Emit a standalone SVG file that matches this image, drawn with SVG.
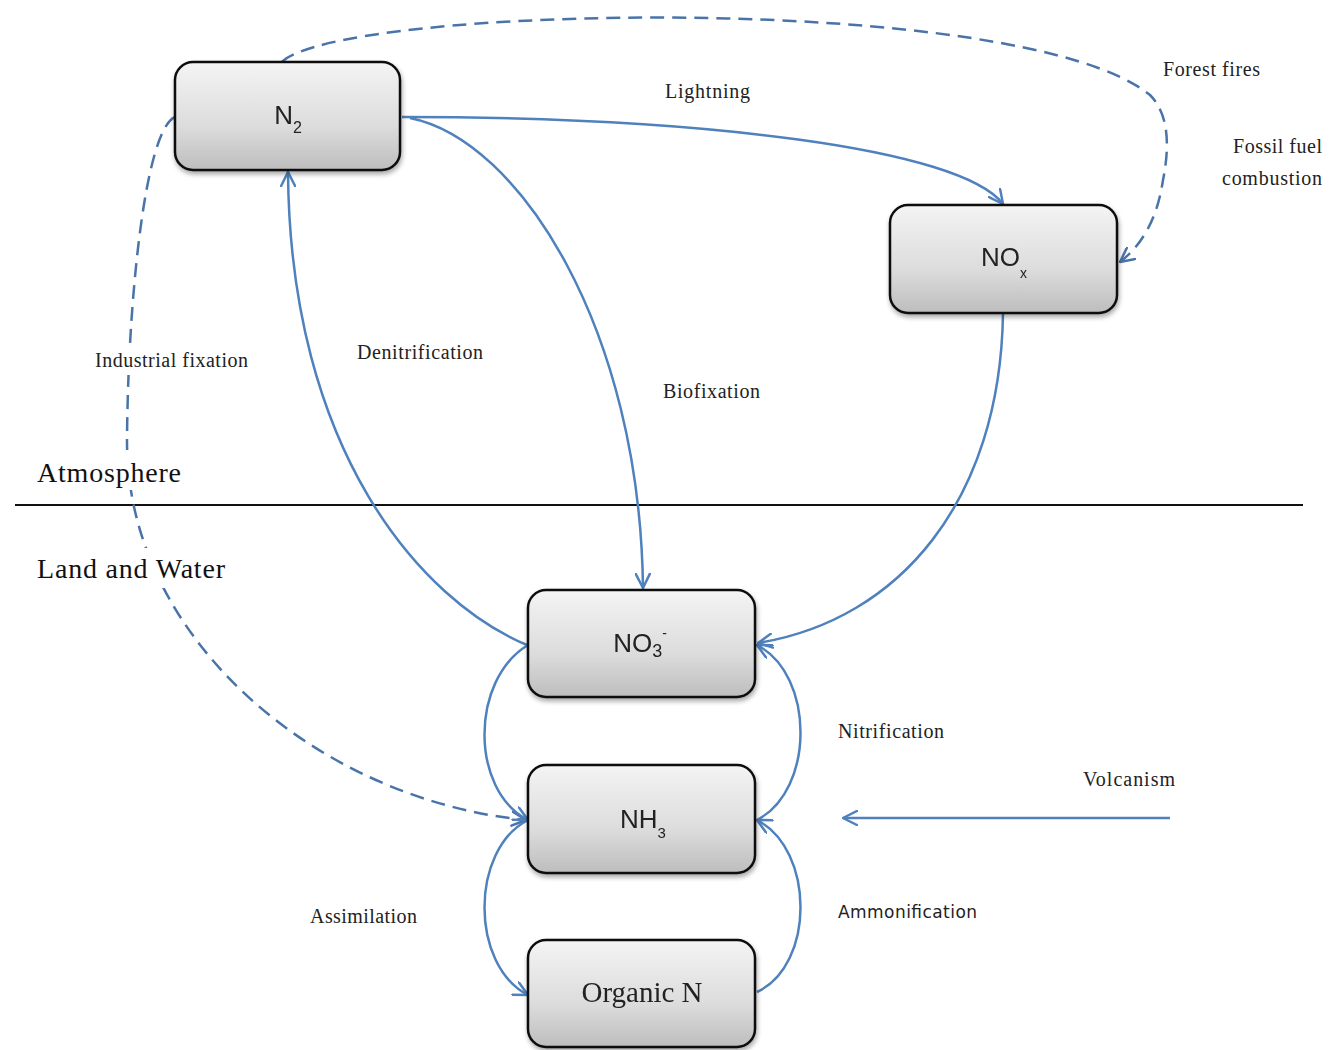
<svg xmlns="http://www.w3.org/2000/svg" width="1329" height="1050" viewBox="0 0 1329 1050">
  <style>
    .box { fill: url(#boxFill); stroke: #111; stroke-width: 2.5; }
    .nodeSans { font-family: "Liberation Sans", Arial, sans-serif; font-size: 26px; fill: #222; }
    .nodeSerif { font-family: "Liberation Serif", "Times New Roman", serif; font-size: 29px; fill: #222; }
    .lbl { font-family: "Liberation Serif", "Times New Roman", serif; font-size: 20px; fill: #222; }
    .zone { font-family: "Liberation Serif", "Times New Roman", serif; font-size: 28px; fill: #111; }
    .flow { fill: none; stroke: #4f81bd; stroke-width: 2.5; }
    .dash { stroke-dasharray: 14 8; stroke: #4a74a8; }
  </style>
  <defs>
    <linearGradient id="boxFill" x1="0" y1="0" x2="0" y2="1">
      <stop offset="0" stop-color="#f4f4f4"/>
      <stop offset="0.6" stop-color="#dcdcdc"/>
      <stop offset="1" stop-color="#bdbdbd"/>
    </linearGradient>
    <filter id="shadow" x="-10%" y="-10%" width="130%" height="140%">
      <feGaussianBlur in="SourceAlpha" stdDeviation="2.5"/>
      <feOffset dx="1" dy="3" result="b"/>
      <feComponentTransfer><feFuncA type="linear" slope="0.35"/></feComponentTransfer>
      <feMerge><feMergeNode/><feMergeNode in="SourceGraphic"/></feMerge>
    </filter>
    <marker id="ah" viewBox="0 0 16 16" refX="15" refY="8" markerWidth="16" markerHeight="16" markerUnits="userSpaceOnUse" orient="auto">
      <path d="M1,1 L15,8 L1,15" fill="none" stroke="#4f81bd" stroke-width="2.5" stroke-linecap="round" stroke-linejoin="round"/>
    </marker>
    <marker id="ahd" viewBox="0 0 16 16" refX="15" refY="8" markerWidth="16" markerHeight="16" markerUnits="userSpaceOnUse" orient="auto">
      <path d="M1,1 L15,8 L1,15" fill="none" stroke="#4a74a8" stroke-width="2.5" stroke-linecap="round" stroke-linejoin="round"/>
    </marker>
  </defs>

  <rect width="1329" height="1050" fill="#fff"/>

  <!-- boundary between atmosphere and land/water -->
  <line x1="15" y1="505" x2="1303" y2="505" stroke="#111" stroke-width="2"/>

  <!-- flows -->
  <g id="connectors">
    <!-- Lightning: N2 -> NOx -->
    <path class="flow" d="M402 117 C700 117, 960 148, 1003 204" marker-end="url(#ah)"/>
    <!-- Biofixation: N2 -> NO3- -->
    <path class="flow" d="M410 118 C520 140, 640 330, 643 588" marker-end="url(#ah)"/>
    <!-- Denitrification: NO3- -> N2 -->
    <path class="flow" d="M527 645 C420 600, 290 450, 288 172" marker-end="url(#ah)"/>
    <!-- NOx deposition: NOx -> NO3- -->
    <path class="flow" d="M1003 314 C1000 500, 900 620, 758 643" marker-end="url(#ah)"/>
    <!-- Forest fires / fossil fuel combustion: N2 -> NOx -->
    <path class="flow dash" d="M282 62 C340 5, 1020 -10, 1150 95 Q1175 120 1163 180 Q1155 235 1120 262" marker-end="url(#ahd)"/>
    <!-- Industrial fixation: N2 -> NH3 -->
    <path class="flow dash" d="M175 117 C145 130, 128 300, 127 440 C126 640, 320 800, 526 820" marker-end="url(#ahd)"/>
    <!-- NO3- -> NH3 (left arc) -->
    <path class="flow" d="M528 645 C470 680, 470 790, 528 820" marker-end="url(#ah)"/>
    <!-- Assimilation: NH3 -> Organic N -->
    <path class="flow" d="M528 820 C470 850, 470 965, 528 995" marker-end="url(#ah)"/>
    <!-- Nitrification: NH3 -> NO3- -->
    <path class="flow" d="M757 820 C815 790, 815 675, 757 645" marker-end="url(#ah)"/>
    <!-- Ammonification: Organic N -> NH3 -->
    <path class="flow" d="M757 992 C815 965, 815 850, 757 820" marker-end="url(#ah)"/>
    <!-- Volcanism -->
    <path class="flow" d="M1170 818 L843 818" marker-end="url(#ah)"/>
  </g>

  <!-- labels sitting on white so crossing lines are hidden behind them -->
  <rect x="90" y="345" width="162" height="30" fill="#fff"/>
  <rect x="33" y="450" width="152" height="40" fill="#fff"/>
  <rect x="33" y="548" width="196" height="40" fill="#fff"/>
  <text class="zone" x="37" y="482" textLength="144">Atmosphere</text>
  <text class="zone" x="37" y="578" textLength="188">Land and Water</text>

  <!-- flow labels -->
  <text class="lbl" x="665" y="98" textLength="85">Lightning</text>
  <text class="lbl" x="1163" y="76" textLength="97">Forest fires</text>
  <text class="lbl" x="1233" y="153" textLength="89">Fossil fuel</text>
  <text class="lbl" x="1222" y="185" textLength="100">combustion</text>
  <text class="lbl" x="95" y="367" textLength="153">Industrial fixation</text>
  <text class="lbl" x="357" y="359" textLength="126">Denitrification</text>
  <text class="lbl" x="663" y="398" textLength="97">Biofixation</text>
  <text class="lbl" x="838" y="738" textLength="106">Nitrification</text>
  <text class="lbl" x="1083" y="786" textLength="92">Volcanism</text>
  <text class="lbl" x="310" y="923" textLength="107">Assimilation</text>
  <text x="838" y="918" textLength="139" style="font-family:'DejaVu Sans','Liberation Sans',sans-serif;font-size:17px;fill:#222">Ammonification</text>

  <!-- nodes -->
  <g id="node-n2" filter="url(#shadow)">
    <rect class="box" x="175" y="62" width="225" height="108" rx="18"/>
    <text class="nodeSans" x="288" y="124" text-anchor="middle">N<tspan font-size="16" dy="9">2</tspan></text>
  </g>
  <g id="node-nox" filter="url(#shadow)">
    <rect class="box" x="890" y="205" width="227" height="108" rx="18"/>
    <text class="nodeSans" x="1004" y="266" text-anchor="middle">NO<tspan font-size="14" dy="12">x</tspan></text>
  </g>
  <g id="node-no3" filter="url(#shadow)">
    <rect class="box" x="528" y="590" width="227" height="107" rx="18"/>
    <text class="nodeSans" x="640" y="652" text-anchor="middle">NO<tspan font-size="18" dy="5">3</tspan><tspan font-size="14" dy="-19">-</tspan></text>
  </g>
  <g id="node-nh3" filter="url(#shadow)">
    <rect class="box" x="528" y="765" width="227" height="108" rx="18"/>
    <text class="nodeSans" x="643" y="828" text-anchor="middle">NH<tspan font-size="15" dy="10">3</tspan></text>
  </g>
  <g id="node-organic-n" filter="url(#shadow)">
    <rect class="box" x="528" y="940" width="227" height="107" rx="18"/>
    <text class="nodeSerif" x="642" y="1002" text-anchor="middle">Organic N</text>
  </g>
</svg>
